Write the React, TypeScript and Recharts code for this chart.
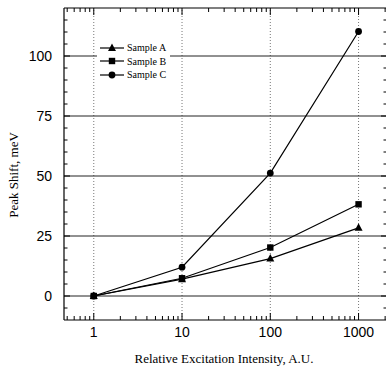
import {
  ComposedChart,
  Line,
  XAxis,
  YAxis,
  ReferenceLine,
  Legend,
} from 'recharts';

// excitation intensity (A.U.) and peak shift (meV)
const intensity = [1, 10, 100, 1000];
const sampleA = [0, 7, 15.6, 28.4];
const sampleB = [0, 7.4, 20.2, 38.2];
const sampleC = [0, 12, 51.2, 110.2];

const xTicks = [1, 10, 100, 1000];
const yTicks = [0, 25, 50, 75, 100];
const X_DOMAIN: [number, number] = [0.46, 2100];
const Y_DOMAIN: [number, number] = [-10, 120];

// minor ticks on the log axis (1..9 in each decade) and every 5 meV
const xMinor: number[] = [];
[0.1, 1, 10, 100, 1000].forEach((d) => {
  for (let k = 1; k <= 9; k++) {
    const v = d * k;
    if (v >= X_DOMAIN[0] && v <= X_DOMAIN[1]) xMinor.push(v);
  }
});
const yMinor: number[] = [];
for (let v = -5; v <= 115; v += 5) yMinor.push(v);

const data = intensity.map((x, i) => ({
  x,
  A: sampleA[i],
  B: sampleB[i],
  C: sampleC[i],
}));

// plot frame in pixels (margins below)
const PLOT_TOP = 8;
const PLOT_BOTTOM = 320;
const PLOT_LEFT = 64;
const PLOT_RIGHT = 387;

const SANS = '"Liberation Sans", Arial, sans-serif';
const SERIF = '"Liberation Serif", "Times New Roman", serif';

const marker = (kind: string, cx: number, cy: number, key?: string) => {
  if (kind === 'A') {
    return <polygon key={key} points={`${cx},${cy - 4.5} ${cx - 4},${cy + 3} ${cx + 4},${cy + 3}`} fill="#000" />;
  }
  if (kind === 'B') {
    return <rect key={key} x={cx - 3.2} y={cy - 3.2} width={6.4} height={6.4} fill="#000" />;
  }
  return <circle key={key} cx={cx} cy={cy} r={3.4} fill="#000" />;
};

const makeDot = (kind: string) => (p: any) => {
  if (p.cx == null || p.cy == null) return <g key={`${kind}-${p.index}`} />;
  return marker(kind, p.cx, p.cy, `${kind}-${p.index}`);
};

const kinds: Record<string, string> = { 'Sample A': 'A', 'Sample B': 'B', 'Sample C': 'C' };

function LegendBox(props: any) {
  const { payload = [] } = props;
  return (
    <div style={{ background: '#fff', padding: '3px 4px 4px 3px' }}>
      {payload
        .filter((entry: any) => kinds[entry.value])
        .map((entry: any) => (
          <div key={entry.value} style={{ display: 'flex', alignItems: 'center', height: 13.5 }}>
            <svg width={27} height={10}>
              <line x1={0} y1={5} x2={24} y2={5} stroke="#000" strokeWidth={1.2} />
              {marker(kinds[entry.value], 12, 5)}
            </svg>
            <span style={{ fontFamily: SERIF, fontSize: 10, color: '#000', whiteSpace: 'nowrap' }}>
              {entry.value}
            </span>
          </div>
        ))}
    </div>
  );
}

// x ticks: inner tick marks top and bottom, label on decades only
function XTick(props: any) {
  const { x, y, payload } = props;
  const v = payload.value;
  const major = xTicks.some((t) => Math.abs(t - v) < 1e-9);
  const len = major ? 7 : 4;
  return (
    <g>
      <line x1={x} x2={x} y1={PLOT_BOTTOM} y2={PLOT_BOTTOM - len} stroke="#000" />
      <line x1={x} x2={x} y1={PLOT_TOP} y2={PLOT_TOP + len} stroke="#000" />
      {major && (
        <text x={x} y={y} dy="0.71em" textAnchor="middle" fontFamily={SANS} fontSize={14} fill="#000">
          {v}
        </text>
      )}
    </g>
  );
}

// y ticks: inner tick marks left and right, label every 25
function YTick(props: any) {
  const { x, y, payload } = props;
  const v = payload.value;
  const major = yTicks.includes(v);
  const len = major ? 6 : 3.5;
  return (
    <g>
      <line x1={PLOT_LEFT} x2={PLOT_LEFT + len} y1={y} y2={y} stroke="#000" />
      <line x1={PLOT_RIGHT - len} x2={PLOT_RIGHT} y1={y} y2={y} stroke="#000" />
      {major && (
        <text x={x} y={y} dy="0.355em" textAnchor="end" fontFamily={SANS} fontSize={14} fill="#000">
          {v}
        </text>
      )}
    </g>
  );
}

const framePen = { stroke: '#000', strokeWidth: 1.2 };

export default function App() {
  return (
    <div style={{ position: 'absolute', left: 0, top: 0, width: 386, height: 367, overflow: 'hidden', background: '#fff' }}>
      <ComposedChart width={400} height={367} data={data} margin={{ top: 8, right: 13, bottom: 0, left: 0 }}>
        <XAxis
          dataKey="x"
          type="number"
          scale="log"
          domain={X_DOMAIN}
          allowDataOverflow
          ticks={xMinor}
          interval={0}
          tickLine={false}
          tickSize={4}
          tickMargin={3}
          height={47}
          axisLine={framePen}
          tick={<XTick />}
          label={{
            content: () => (
              <text x={224} y={363} textAnchor="middle" fontFamily={SERIF} fontSize={13} fill="#000">
                Relative Excitation Intensity, A.U.
              </text>
            ),
          }}
        />
        <YAxis
          type="number"
          domain={Y_DOMAIN}
          allowDataOverflow
          ticks={yMinor}
          interval={0}
          tickLine={false}
          tickMargin={6}
          width={64}
          axisLine={framePen}
          tick={<YTick />}
          label={{
            content: () => (
              <text transform="translate(18,175) rotate(-90)" textAnchor="middle" fontFamily={SERIF} fontSize={13} fill="#000">
                Peak Shift, meV
              </text>
            ),
          }}
        />

        {xTicks.map((v) => (
          <ReferenceLine key={`vx-${v}`} x={v} stroke="#777" strokeDasharray="1 2" strokeWidth={1} />
        ))}
        {yTicks.map((v) => (
          <ReferenceLine key={`hy-${v}`} y={v} stroke="#222" strokeWidth={1} />
        ))}
        {/* top and right frame */}
        <ReferenceLine y={Y_DOMAIN[1]} stroke="#000" strokeWidth={1.2} />
        <ReferenceLine x={X_DOMAIN[1]} stroke="#000" strokeWidth={1.2} />

        <Legend
          layout="vertical"
          align="center"
          verticalAlign="middle"
          content={<LegendBox />}
          wrapperStyle={{ left: 97, top: 38, width: 'auto' }}
        />

        <Line name="Sample A" dataKey="A" stroke="#000" strokeWidth={1.2} dot={makeDot('A')} activeDot={false} isAnimationActive={false} />
        <Line name="Sample B" dataKey="B" stroke="#000" strokeWidth={1.2} dot={makeDot('B')} activeDot={false} isAnimationActive={false} />
        <Line name="Sample C" dataKey="C" stroke="#000" strokeWidth={1.2} dot={makeDot('C')} activeDot={false} isAnimationActive={false} />
      </ComposedChart>
    </div>
  );
}
